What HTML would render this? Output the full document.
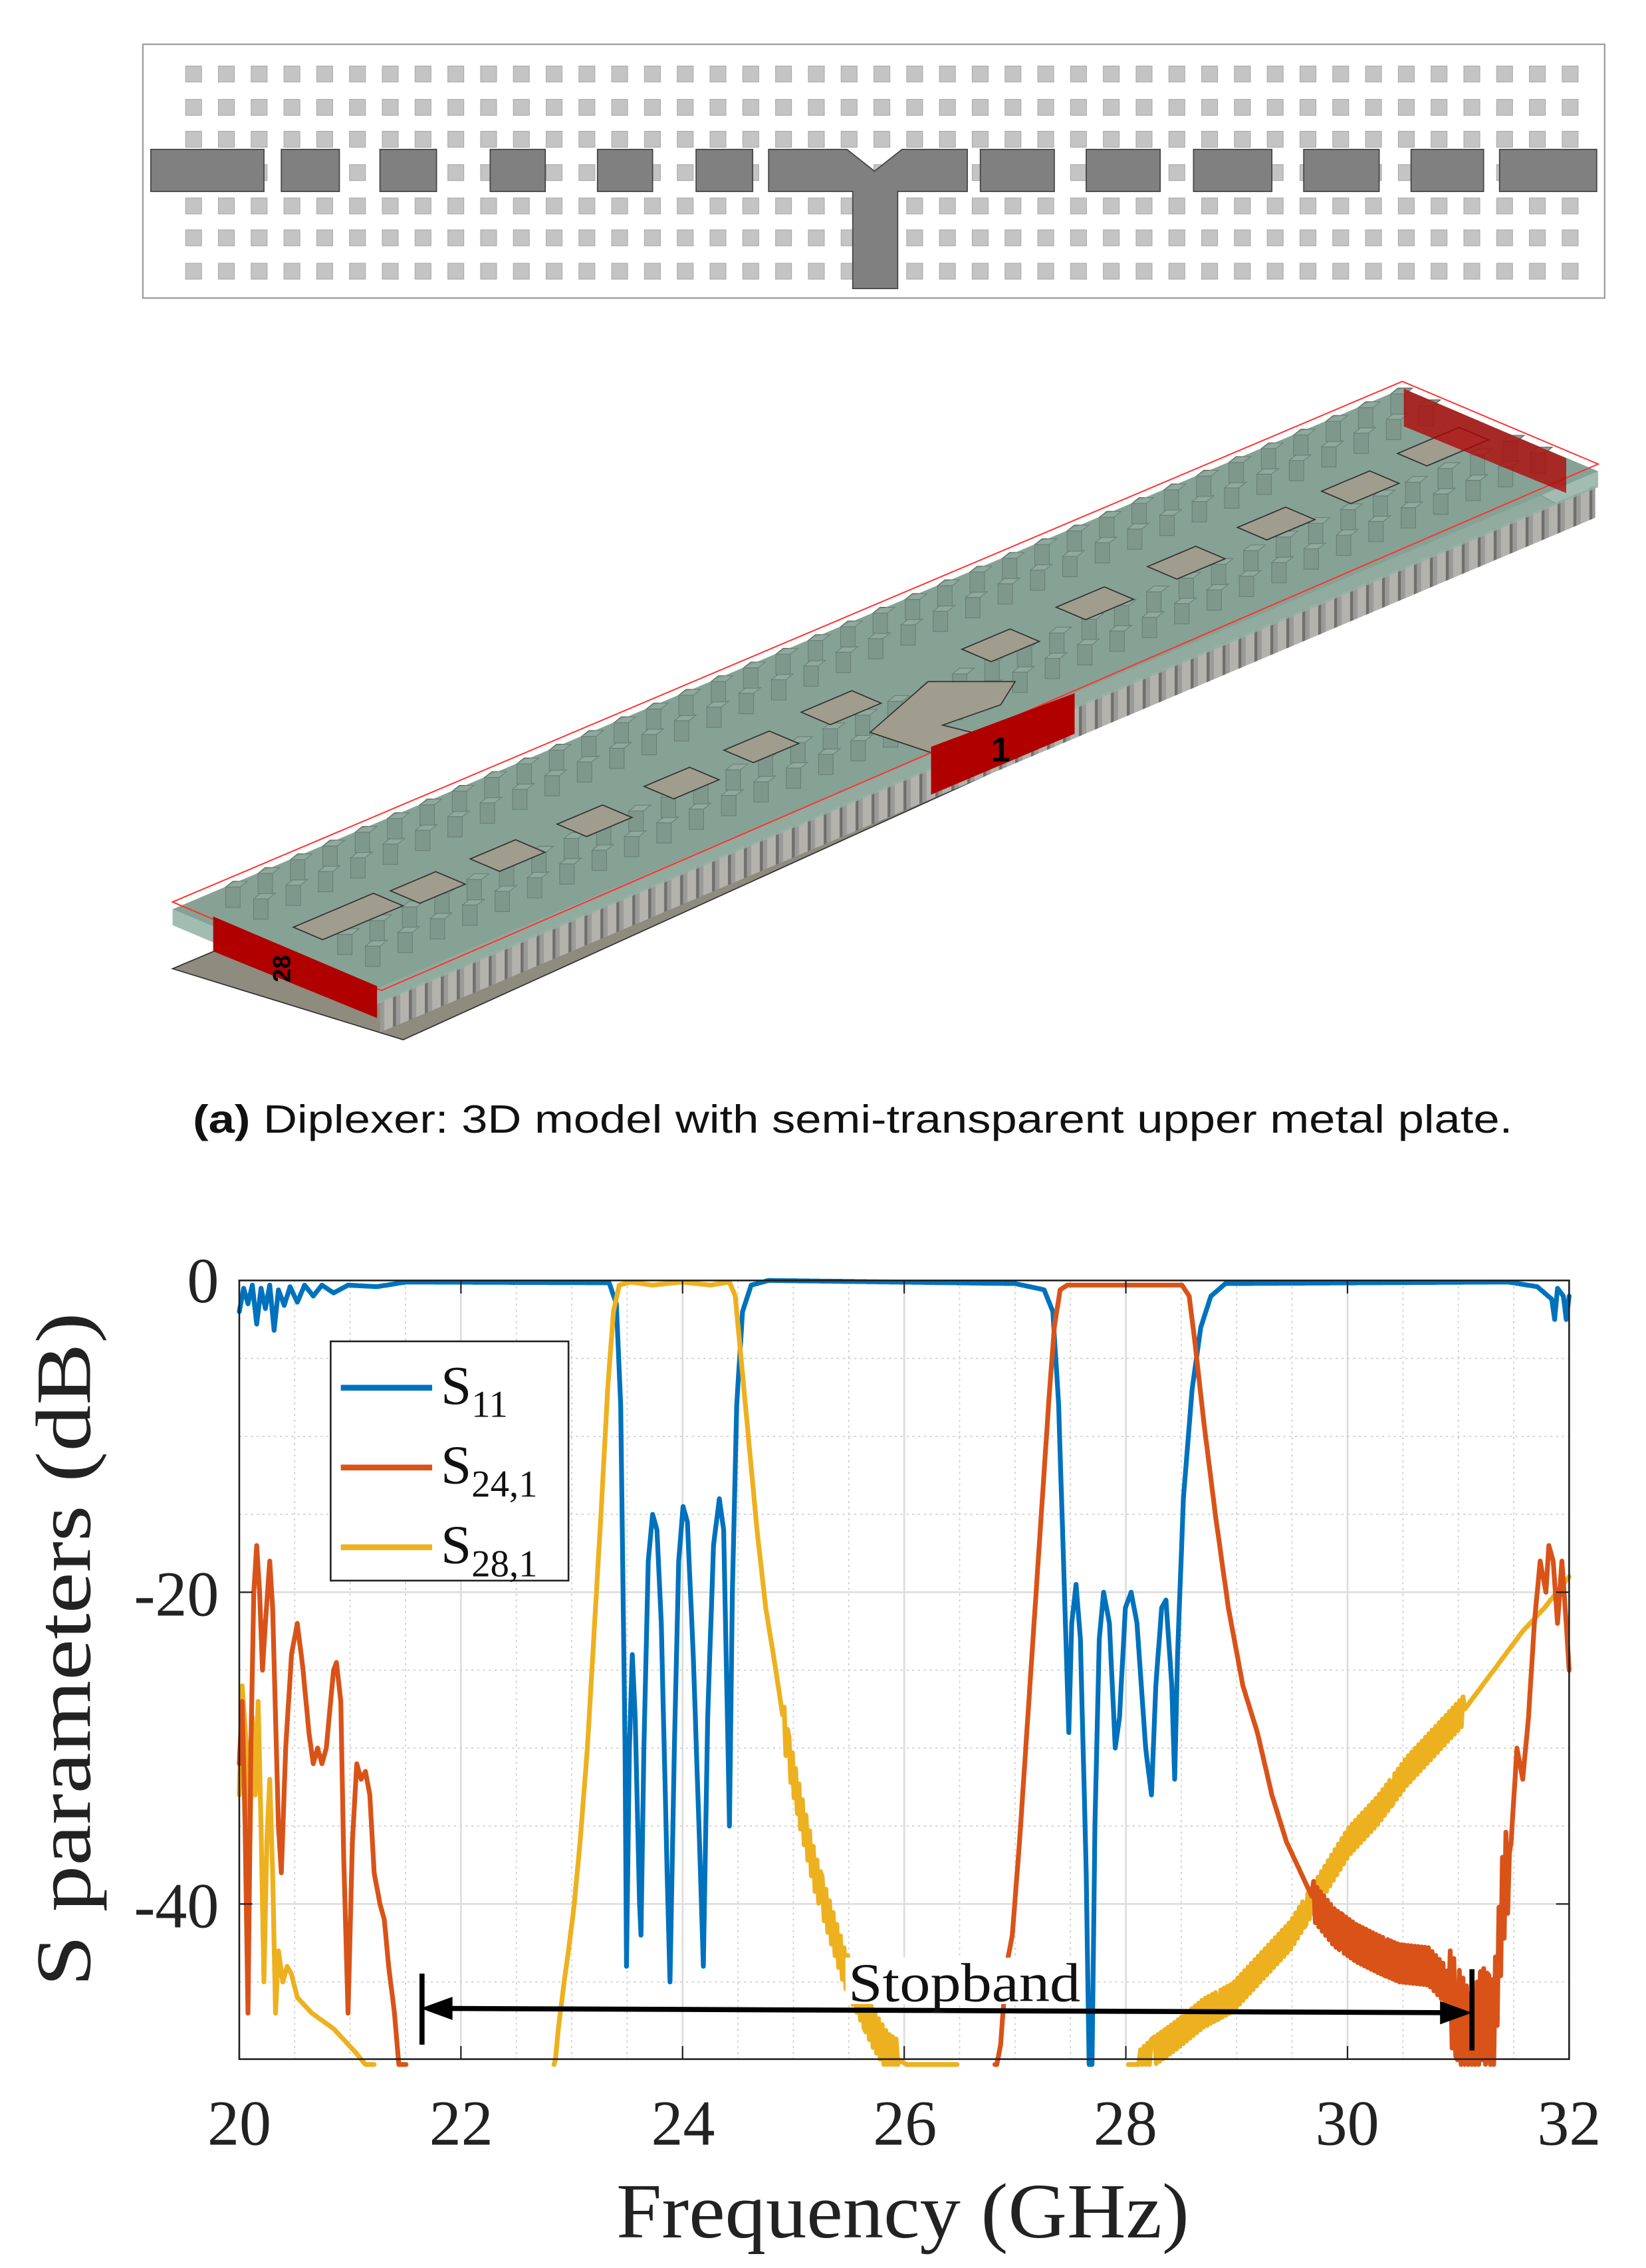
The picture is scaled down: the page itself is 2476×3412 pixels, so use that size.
<!DOCTYPE html>
<html><head><meta charset="utf-8">
<style>
html,body{margin:0;padding:0;background:#fff;}
svg{display:block;}
</style></head>
<body>
<svg id="s" xmlns="http://www.w3.org/2000/svg" width="2476" height="3412" viewBox="0 0 1135 1564">
<rect x="0" y="0" width="1135" height="1564" fill="#fff"/>
<defs>
<pattern id="pil" patternUnits="userSpaceOnUse" width="11" height="60" patternTransform="skewY(-22.9)">
<rect x="0" y="0" width="11" height="60" fill="#9a9a98"/>
<rect x="1" y="0" width="6" height="60" fill="#b4b2ad"/>
<rect x="7" y="0" width="2" height="60" fill="#6f6f6c"/>
</pattern>
</defs>
<!-- top layout -->
<rect x="98.5" y="30.5" width="1008" height="175" fill="#fff" stroke="#999" stroke-width="1"/>
<g id="sq" fill="#c4c4c4" stroke="#aaa" stroke-width="0.5"></g>
<g fill="#808080" stroke="#444" stroke-width="0.8">
<rect x="104" y="103" width="78" height="29"/>
<rect x="194" y="103" width="40" height="29"/>
<rect x="262" y="103" width="39" height="29"/>
<rect x="338" y="103" width="38" height="29"/>
<rect x="412" y="103" width="38" height="29"/>
<rect x="480" y="103" width="39" height="29"/>
<polygon points="530,103 584,103 603,118 622,103 667,103 667,132 619,132 619,199 588,199 588,132 530,132"/>
<rect x="676" y="103" width="51" height="29"/>
<rect x="749" y="103" width="51" height="29"/>
<rect x="823" y="103" width="54" height="29"/>
<rect x="899" y="103" width="52" height="29"/>
<rect x="973" y="103" width="50" height="29"/>
<rect x="1034" y="103" width="67" height="29"/>
</g>

<!-- 3D model -->
<polygon points="119,668 987,302 1082,352 278,717" fill="#8e8b7f" stroke="#333" stroke-width="0.8"/>
<polygon points="262,690 1100,335 1100,357 262,712" fill="url(#pil)"/>
<polygon points="119,627 967,268 1102,325 254,684" fill="#7a9488"/>
<g id="pill3d"></g>
<polygon points="119,627 967,268 1102,325 254,684" fill="#9fbcb0" opacity="0.35"/>
<polygon points="254,684 1102,325 1102,336 254,695" fill="#93b0a4" opacity="0.85"/>
<polygon points="119,627 254,684 254,695 119,638" fill="#93b0a4" opacity="0.85"/>
<g id="pads" fill="#a09d8f" stroke="#333" stroke-width="0.8"></g>
<polygon points="119,622 967,263 1102,320 263,683" fill="none" stroke="#ff3030" stroke-width="0.9"/>
<polygon points="147,632 260,680 260,702 147,656" fill="#b00000"/>
<polygon points="642,515 741,478 741,506 642,548" fill="#b00000"/>
<polygon points="968,268 1080,316 1080,340 968,294" fill="#b00000" opacity="0.75"/>
<text x="0" y="0" transform="translate(200,668) rotate(-90)" font-family="Liberation Sans, sans-serif" font-weight="bold" font-size="17" fill="#000" text-anchor="middle">28</text>
<text x="690" y="525" font-family="Liberation Sans, sans-serif" font-weight="bold" font-size="24" fill="#000" text-anchor="middle">1</text>

<!-- caption -->
<text x="133" y="781" font-family="Liberation Sans, sans-serif" font-size="27" fill="#111" textLength="910" lengthAdjust="spacingAndGlyphs"><tspan font-weight="bold">(a)</tspan> Diplexer: 3D model with semi-transparent upper metal plate.</text>

<!-- chart -->
<g id="grid"></g>
<g id="curves" fill="none" stroke-linejoin="round" stroke-linecap="round"></g>
<rect x="165" y="883" width="917" height="537" fill="none" stroke="#222" stroke-width="1.2"/>
<g id="ticks" stroke="#222" stroke-width="1"></g>
<!-- stopband -->
<rect x="583" y="1350" width="165" height="32" fill="#fff"/>
<g stroke="#000" stroke-width="3.5">
<line x1="300" y1="1385" x2="1005" y2="1388"/>
<line x1="291" y1="1361" x2="291" y2="1410"/>
<line x1="1015" y1="1358" x2="1015" y2="1414"/>
</g>
<polygon points="290,1385 312,1377 312,1393" fill="#000"/>
<polygon points="1015,1388 993,1380 993,1396" fill="#000"/>
<text x="665" y="1380" font-family="Liberation Serif, serif" font-size="38" text-anchor="middle" fill="#111" textLength="160" lengthAdjust="spacingAndGlyphs">Stopband</text>
<!-- legend -->
<rect x="228" y="925" width="164" height="165" fill="#fff" stroke="#222" stroke-width="1.2"/>
<g stroke-width="4">
<line x1="235" y1="957" x2="298" y2="957" stroke="#0072bd"/>
<line x1="235" y1="1012" x2="298" y2="1012" stroke="#d95319"/>
<line x1="235" y1="1067" x2="298" y2="1067" stroke="#edb120"/>
</g>
<g font-family="Liberation Serif, serif" font-size="38" fill="#111">
<text x="304" y="968">S<tspan font-size="26" dy="9">11</tspan></text>
<text x="304" y="1023">S<tspan font-size="26" dy="9">24,1</tspan></text>
<text x="304" y="1078">S<tspan font-size="26" dy="9">28,1</tspan></text>
</g>
<!-- labels -->
<g font-family="Liberation Serif, serif" font-size="44" fill="#222">
<text x="151" y="898" text-anchor="end">0</text>
<text x="151" y="1114" text-anchor="end">-20</text>
<text x="151" y="1329" text-anchor="end">-40</text>
<g text-anchor="middle">
<text x="165" y="1479">20</text><text x="318" y="1479">22</text><text x="471" y="1479">24</text>
<text x="624" y="1479">26</text><text x="776" y="1479">28</text><text x="929" y="1479">30</text><text x="1082" y="1479">32</text>
</g>
</g>
<text x="425" y="1543" font-family="Liberation Serif, serif" font-size="54" fill="#222" textLength="395" lengthAdjust="spacingAndGlyphs">Frequency (GHz)</text>
<text transform="translate(62,1370) rotate(-90)" font-family="Liberation Serif, serif" font-size="54" fill="#222" textLength="465" lengthAdjust="spacingAndGlyphs">S parameters (dB)</text>
</svg>
<script>
(function(){
var NS="http://www.w3.org/2000/svg";
function el(p,n,a){var e=document.createElementNS(NS,n);for(var k in a)e.setAttribute(k,a[k]);p.appendChild(e);return e;}
var sq=document.getElementById('sq');
var rows=[51,74,96,119,142,164,187];
for(var r=0;r<rows.length;r++){for(var c=0;c<43;c++){var x=128+c*22.6;el(sq,'rect',{x:x,y:rows[r]-5.5,width:11,height:11});}}
var g=document.getElementById('pill3d');
var A=[119,627],u=[848/38,-359/38],v=[135/7,57/7];
for(var i=1;i<38;i++){for(var j=1;j<7;j++){if(j==3||j==4)continue;var px=A[0]+u[0]*i+v[0]*j,py=A[1]+u[1]*i+v[1]*j;
el(g,'rect',{x:px-5,y:py-14,width:10,height:14,fill:'#6d857a',stroke:'#4d5f56','stroke-width':0.5});
el(g,'polygon',{points:(px-5)+','+(py-14)+' '+(px)+','+(py-18)+' '+(px+10)+','+(py-18)+' '+(px+5)+','+(py-14),fill:'#879f93',stroke:'#4d5f56','stroke-width':0.5});}}
var pads=document.getElementById('pads');
var pc=[[240,632,60],[295,612,34],[350,590,34],[410,566,34],[470,540,34],[525,515,34],[580,488,38],[690,445,36],[755,416,36],[818,388,36],[880,361,36],[938,336,36],[995,308,46]];
var ud=[0.921,-0.39],vd=[0.92,0.39];
pc.forEach(function(p){var L=p[2]/2,W=11;var pts=[];[[-1,-1],[1,-1],[1,1],[-1,1]].forEach(function(s){pts.push((p[0]+ud[0]*L*s[0]+vd[0]*W*s[1]).toFixed(1)+','+(p[1]+ud[1]*L*s[0]+vd[1]*W*s[1]).toFixed(1));});el(pads,'polygon',{points:pts.join(' ')});});
el(pads,'polygon',{points:'600,505 640,470 700,470 690,486 650,500 690,510 660,525'});
var gr=document.getElementById('grid');
function X(f){return 165+(f-20)*76.417;}
function Y(d){return 883-d*10.75;}
for(var f=20.5;f<32;f+=0.5){var isMaj=Math.abs(f/2-Math.round(f/2))<1e-6;el(gr,'line',{x1:X(f),y1:883,x2:X(f),y2:1420,stroke:isMaj?'#dcdcdc':'#cfcfcf','stroke-width':isMaj?1.2:0.8,'stroke-dasharray':isMaj?'':'1.5,2.5'});}
for(var d=-5;d>-50;d-=5){var maj=(d%20==0);el(gr,'line',{x1:165,y1:Y(d),x2:1082,y2:Y(d),stroke:maj?'#dcdcdc':'#cfcfcf','stroke-width':maj?1.2:0.8,'stroke-dasharray':maj?'':'1.5,2.5'});}
var tk=document.getElementById('ticks');
for(var f=20;f<=32;f+=2){el(tk,'line',{x1:X(f),y1:1420,x2:X(f),y2:1411});el(tk,'line',{x1:X(f),y1:883,x2:X(f),y2:892});}
[0,-20,-40].forEach(function(d){el(tk,'line',{x1:165,y1:Y(d),x2:174,y2:Y(d)});el(tk,'line',{x1:1082,y1:Y(d),x2:1073,y2:Y(d)});});
var cv=document.getElementById('curves');
function path(pts,col,noise){
  var s='';var out=[];
  for(var i=0;i<pts.length-1;i++){var a=pts[i],b=pts[i+1];var n=Math.max(1,Math.round((b[0]-a[0])/1.2));
    for(var k=0;k<n;k++){var t=k/n;var x=a[0]+(b[0]-a[0])*t;var d=a[1]+(b[1]-a[1])*t;
      if(noise){var nz=noise(x);if(nz)d+=nz*((Math.round(x/1.2)%2)?1:-1);}out.push([x,d]);}}
  out.push(pts[pts.length-1]);
  out.forEach(function(p,i){var y=Y(Math.max(p[1],-50.3));s+=(i?'L':'M')+p[0].toFixed(1)+','+y.toFixed(1);});
  el(cv,'path',{d:s,stroke:col,'stroke-width':3.3});
}
var S11=[[165,-2],[168,-0.5],[171,-1.5],[174,-0.3],[177,-2.8],[180,-0.5],[183,-1.8],[186,-0.3],[189,-3.2],[192,-0.6],[196,-1.6],[200,-0.4],[205,-1.4],[210,-0.3],[216,-1.0],[222,-0.3],[230,-0.8],[240,-0.3],[260,-0.4],[280,-0.1],[420,-0.15],[425,-1.5],[428,-8],[431,-30],[432,-44],[434,-30],[436,-24],[438,-28],[441,-40],[442,-42],[444,-30],[447,-18],[450,-15],[453,-16],[456,-22],[460,-38],[462,-45],[465,-30],[468,-18],[471,-14.5],[474,-15.5],[478,-24],[483,-38],[485,-44],[488,-28],[492,-17],[496,-14],[499,-16],[502,-30],[503,-35],[505,-20],[508,-8],[512,-2],[518,-0.3],[530,0],[700,-0.2],[720,-0.6],[726,-2],[730,-8],[734,-20],[737,-29],[739,-22],[742,-19.5],[745,-23],[749,-38],[751,-50.5],[753,-50.5],[755,-35],[758,-23],[761,-20],[765,-22],[769,-30],[772,-28],[776,-21],[780,-20],[784,-22],[790,-30],[794,-33],[797,-26],[801,-21],[804,-20.5],[808,-26],[810,-32],[812,-24],[816,-14],[822,-7],[828,-3],[835,-1],[845,-0.2],[1040,-0.1],[1060,-0.4],[1070,-1.2],[1072,-2.5],[1074,-0.5],[1078,-1],[1080,-2.5],[1082,-1]];
var S24=[[165,-31],[167,-27],[169,-35],[171,-47],[173,-30],[175,-20],[177,-17],[179,-20],[181,-25],[183,-22],[186,-18],[188,-21],[190,-28],[192,-35],[194,-38],[197,-30],[201,-24],[205,-22],[209,-25],[213,-29],[216,-31],[219,-30],[222,-31],[225,-30],[228,-27],[230,-25],[232,-24.5],[235,-27],[237,-37],[240,-47],[243,-36],[246,-31],[249,-32],[252,-31.5],[255,-33],[258,-38],[262,-40],[265,-41],[268,-44],[272,-47],[275,-50.3],[280,-51]];
var S24b=[[686,-51],[690,-49],[694,-44],[698,-42],[703,-36],[708,-29],[713,-22],[718,-15],[723,-8],[727,-3],[731,-0.6],[736,-0.3],[815,-0.3],[820,-1],[824,-4],[830,-9],[838,-15],[847,-21],[857,-26],[867,-29],[877,-33],[887,-36],[897,-38],[907,-40],[920,-41.5],[935,-42.5],[950,-43.2],[965,-43.8],[985,-44],[995,-45],[1005,-47],[1015,-49],[1022,-47],[1030,-48],[1036,-40],[1042,-36],[1046,-30],[1050,-32],[1054,-28],[1058,-22],[1062,-18],[1066,-20],[1068,-17],[1071,-18],[1074,-22],[1077,-18],[1080,-22],[1082,-25]];
var S28=[[165,-33],[167,-26],[170,-30],[172,-38],[174,-28],[176,-33],[178,-27],[180,-35],[182,-45],[184,-36],[186,-32],[188,-38],[190,-47],[192,-43],[195,-45],[198,-44],[201,-44.5],[205,-46],[215,-47],[230,-48],[245,-49.5],[258,-51]];
var S28b=[[382,-51],[385,-48],[389,-45],[392,-43],[396,-40],[400,-36],[405,-30],[410,-22],[415,-14],[419,-7],[423,-2],[427,-0.3],[435,-0.1],[450,-0.3],[470,-0.1],[490,-0.3],[503,-0.1],[507,-1],[511,-5],[516,-10],[522,-16],[528,-21],[535,-25],[543,-30],[552,-34],[562,-38],[572,-41],[582,-44],[592,-46],[602,-48],[612,-49.5],[625,-50.3],[660,-51]];
var S28c=[[778,-51],[795,-49.5],[810,-48.5],[830,-47],[850,-46],[870,-44],[890,-42],[910,-39],[930,-36],[950,-34],[970,-31.5],[990,-29.5],[1010,-27.5],[1030,-25],[1050,-22.5],[1065,-21],[1082,-19]];
path(S11,'#0072bd',null);
path(S28,'#edb120',null);
path(S28b,'#edb120',function(x){return (x>540&&x<620)?1.2:0;});
path(S28c,'#edb120',function(x){return (x>785&&x<1010)?0.9:0;});
path(S24,'#d95319',null);
path(S24b,'#d95319',function(x){return (x>905&&x<1000)?1.2:((x>=1000&&x<1040)?3:0);});
})();
</script>
</body></html>
